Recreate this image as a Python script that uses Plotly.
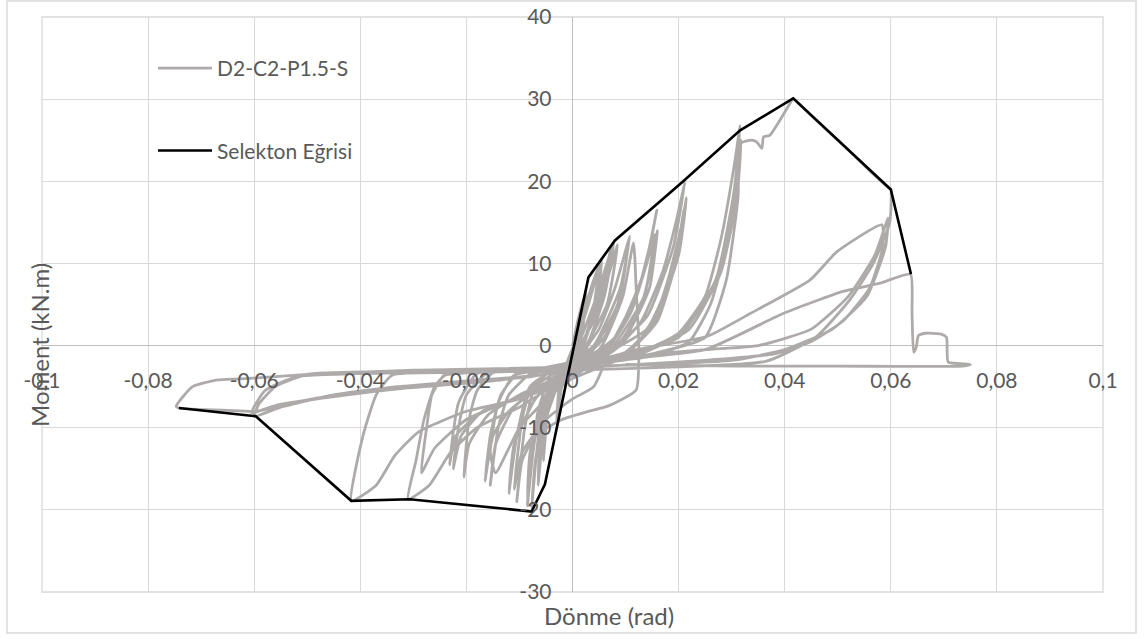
import plotly.graph_objects as go

# ---------------- data ----------------
series_names = ["D2-C2-P1.5-S", "Selekton Eğrisi"]

# skeleton (envelope) curve
skel_rot = [-0.0742, -0.0597, -0.0417, -0.0307, -0.0077, -0.0052, 0.0030, 0.0080, 0.0205, 0.0316, 0.0416, 0.0600, 0.0638]
skel_mom = [-7.6, -8.6, -18.9, -18.7, -20.2, -16.9, 8.3, 12.8, 19.8, 26.2, 30.1, 19.0, 8.7]

# hysteresis record, split by loading stage
h1_rot = [0.0, 0.001, 0.0025, 0.002, 0.0005, -0.0015, -0.003, -0.0025, -0.001, 0.0005,
          0.002, 0.0035, 0.005, 0.0038, 0.001, -0.003, -0.0045, -0.0055, -0.005, -0.002, 0.0,
          0.003, 0.0055, 0.0045, 0.0015, -0.002, -0.005, -0.0065, -0.006, -0.003, 0.0,
          0.004, 0.0065, 0.0078, 0.006, 0.002, -0.003, -0.006, -0.0077, -0.007, -0.004, 0.0,
          0.003, 0.006, 0.0072, 0.0055, 0.002, -0.002, -0.005, -0.007, -0.0085, -0.008, -0.005, -0.001,
          0.004, 0.007, 0.0085, 0.0065, 0.001, -0.004, -0.0065, -0.0085, -0.0075, -0.004, 0.001]
h1_mom = [0.0, 3.0, 6.5, 2.5, -0.5, -3.0, -9.5, -5.0, -2.0, 0.5,
          4.0, 7.0, 9.8, 4.0, -1.2, -3.5, -7.0, -14.0, -9.0, -3.5, -1.0,
          5.0, 10.5, 5.0, -0.8, -3.2, -8.0, -17.0, -11.0, -4.0, -1.5,
          5.0, 10.0, 12.6, 6.0, -1.0, -4.0, -9.0, -19.8, -14.0, -5.0, -2.0,
          2.0, 8.0, 11.8, 5.0, -1.2, -3.4, -6.0, -11.0, -18.5, -13.0, -6.0, -2.5,
          3.0, 9.0, 12.3, 5.0, -1.5, -3.5, -8.0, -19.5, -12.0, -4.5, -1.5]

h2_rot = [0.005, 0.008, 0.0108, 0.009, 0.004, -0.002, -0.007, -0.009, -0.0105, -0.0095, -0.007,
          -0.002, 0.003, 0.0065, 0.012, 0.0125, 0.012, 0.0115, 0.0095, 0.005, -0.003, -0.008,
          -0.0105, -0.012, -0.011, -0.007, -0.002, 0.003,
          0.006, 0.009, 0.0105, 0.0085, 0.003, -0.004, -0.008, -0.0095, -0.011, -0.0095, -0.005,
          0.0, 0.004]
h2_mom = [2.0, 7.0, 13.3, 7.0, 0.0, -2.8, -5.0, -10.0, -19.0, -14.0, -11.0,
          -9.0, -8.0, -7.4, -5.4, 0.0, 7.0, 12.5, 6.0, -0.5, -2.8, -5.0,
          -11.0, -18.0, -12.0, -6.5, -3.2, -1.0,
          1.0, 6.0, 12.0, 5.0, -1.2, -3.0, -5.5, -9.0, -17.5, -13.0, -9.0,
          -6.5, -5.0]

h3_rot = [0.008, 0.012, 0.0145, 0.0159, 0.0135, 0.008, 0.0, -0.008, -0.012, -0.014, -0.0155,
          -0.0145, -0.011, -0.005, 0.001, 0.009, 0.013, 0.015, 0.016, 0.0145, 0.009, 0.0,
          -0.01, -0.0135, -0.0155, -0.0165, -0.015, -0.012, -0.006, 0.0,
          0.007, 0.011, 0.014, 0.0155, 0.0135, 0.007, -0.002, -0.011, -0.014, -0.0155, -0.0145,
          -0.01, -0.004, 0.002]
h3_mom = [1.0, 6.0, 12.0, 16.5, 9.0, 1.0, -2.5, -3.5, -6.0, -10.0, -17.0,
          -12.0, -7.5, -4.5, -2.0, 0.5, 5.0, 10.0, 14.0, 7.0, 0.0, -2.8,
          -3.2, -6.0, -11.0, -16.5, -11.0, -8.0, -5.0, -2.5,
          0.0, 4.0, 10.0, 13.5, 6.0, -0.5, -2.8, -3.6, -7.0, -13.0, -15.5,
          -10.0, -6.0, -3.0]

h4_rot = [0.008, 0.013, 0.017, 0.0195, 0.0212, 0.019, 0.014, 0.007, -0.005, -0.015, -0.018,
          -0.0195, -0.0205, -0.0195, -0.016, -0.01, -0.003, 0.003, 0.01, 0.015, 0.018, 0.0205,
          0.0215, 0.02, 0.015, 0.006, -0.006, -0.016, -0.02, -0.0215, -0.0225, -0.021, -0.017,
          -0.01, -0.003, 0.004,
          0.011, 0.016, 0.019, 0.021, 0.0195, 0.014, 0.005, -0.008, -0.018, -0.0215, -0.0232,
          -0.022, -0.018, -0.011, -0.004, 0.003]
h4_mom = [-0.5, 3.0, 9.0, 15.0, 19.9, 12.0, 3.5, -0.5, -2.8, -3.3, -5.5,
          -9.0, -16.0, -12.0, -8.5, -6.0, -4.0, -2.0, -0.8, 2.5, 8.0, 14.5,
          18.0, 11.0, 2.5, -1.0, -3.0, -3.3, -6.0, -10.0, -15.0, -11.0, -8.0,
          -6.3, -4.5, -2.3,
          -0.5, 3.0, 9.0, 16.5, 10.0, 2.0, -1.2, -3.0, -3.4, -7.0, -14.5,
          -11.0, -8.5, -6.5, -4.3, -2.4]

h5_rot = [0.012, 0.02, 0.025, 0.028, 0.0305, 0.0316, 0.0305, 0.027, 0.02, 0.01, 0.0, -0.015,
          -0.024, -0.026, -0.028, -0.0295, -0.031, -0.027, -0.023, -0.018, -0.01, -0.004, 0.002,
          0.015, 0.022, 0.026, 0.029, 0.031, 0.0318, 0.031, 0.028, 0.022, 0.012, 0.0, -0.015,
          -0.024, -0.0265, -0.0275, -0.0285, -0.026, -0.02, -0.012, -0.004, 0.004]
h5_mom = [-1.0, 1.5, 6.0, 13.0, 22.0, 26.8, 19.0, 8.0, 1.0, -1.0, -2.5, -3.2,
          -3.6, -5.0, -9.0, -14.0, -18.7, -17.0, -13.0, -10.0, -7.5, -5.0, -2.5,
          -1.3, 0.5, 5.0, 12.0, 20.0, 25.0, 18.0, 9.0, 2.0, -1.2, -2.6, -3.1,
          -3.5, -6.0, -10.0, -15.5, -12.5, -9.0, -6.8, -4.2, -2.2]

h6_rot = [0.015, 0.025, 0.029, 0.0312, 0.0316, 0.0338, 0.0347, 0.0357, 0.036, 0.0372, 0.0413,
          0.0416, 0.0421, 0.046, 0.052, 0.056, 0.0596, 0.06, 0.0598, 0.0567, 0.0523, 0.046,
          0.0366, 0.02, 0.0, -0.02,
          -0.034, -0.037, -0.0395, -0.0417, -0.037, -0.0335, -0.029, -0.02, -0.01, 0.0, 0.01, 0.025]
h6_mom = [-1.0, 1.0, 8.0, 18.0, 24.6, 25.0, 24.8, 24.0, 25.4, 25.6, 29.8,
          30.1, 29.8, 27.4, 23.8, 21.3, 19.2, 19.0, 15.0, 10.0, 5.6, 1.1,
          -1.9, -2.6, -3.0, -3.3,
          -3.6, -6.0, -11.0, -18.9, -17.0, -13.4, -10.5, -8.0, -6.5, -4.0, -1.5, -0.5]

h7_rot = [0.035, 0.045, 0.052, 0.057, 0.0595, 0.059, 0.0555, 0.049, 0.04, 0.03, 0.0, -0.03,
          -0.05, -0.056, -0.059, -0.06, -0.055, -0.045, -0.033, -0.02, -0.008, 0.0, 0.012,
          0.0253, 0.0335, 0.0448, 0.0498, 0.0583, 0.0585, 0.056, 0.051, 0.045, 0.038, 0.025,
          0.0, -0.03, -0.052, -0.058, -0.0605, -0.056, -0.045, -0.032, -0.015, 0.0, 0.012]
h7_mom = [0.0, 2.0, 6.0, 11.0, 15.5, 12.0, 6.0, 2.0, -0.5, -1.8, -2.6, -3.1,
          -3.5, -5.0, -7.0, -8.6, -7.5, -6.0, -5.0, -4.4, -3.8, -2.8, -0.5,
          1.1, 3.9, 8.0, 11.4, 14.7, 12.0, 7.0, 3.0, 0.5, -1.0, -1.8,
          -2.7, -3.3, -3.8, -5.5, -8.2, -7.3, -6.2, -5.2, -4.3, -3.0, -1.0]

h8_rot = [0.0, -0.03, -0.05, -0.0609, -0.0672, -0.0716, -0.0734, -0.0747, -0.0742, -0.065,
          -0.0596, -0.05, -0.04, -0.0326, -0.02, -0.005, 0.005, 0.025, 0.0397, 0.051, 0.058,
          0.0637, 0.064, 0.0643, 0.0648, 0.0652, 0.0665, 0.0695, 0.0705, 0.0708, 0.073, 0.075,
          0.0735, 0.05, 0.03, 0.01]
h8_mom = [-2.5, -3.0, -3.5, -4.0, -4.2, -5.0, -6.2, -7.4, -7.6, -7.9,
          -8.0, -6.6, -5.6, -5.0, -4.3, -3.5, -2.0, -0.5, 3.9, 6.6, 7.6,
          8.7, 4.0, -0.8, -0.2, 1.2, 1.5, 1.4, 1.0, -2.0, -2.2, -2.3,
          -2.5, -2.5, -2.5, -2.3]

x_tickvals = [-0.1, -0.08, -0.06, -0.04, -0.02, 0.0, 0.02, 0.04, 0.06, 0.08, 0.1]
x_ticktext = ["-0,1", "-0,08", "-0,06", "-0,04", "-0,02", "0", "0,02", "0,04", "0,06", "0,08", "0,1"]
y_tickvals = [-30, -20, -10, 0, 10, 20, 30, 40]
y_ticktext = ["-30", "-20", "-10", "0", "10", "20", "30", "40"]

x_title = "Dönme (rad)"
y_title = "Moment (kN.m)"

# ---------------- figure ----------------
hyst_rot = h1_rot + h2_rot + h3_rot + h4_rot + h5_rot + h6_rot + h7_rot + h8_rot
hyst_mom = h1_mom + h2_mom + h3_mom + h4_mom + h5_mom + h6_mom + h7_mom + h8_mom

FONT = "Lato, 'Open Sans', sans-serif"
TXT = "#595959"
GRID = "#d9d9d9"

fig = go.Figure()
fig.add_trace(go.Scatter(x=hyst_rot, y=hyst_mom, mode="lines", name=series_names[0],
                         legendgroup="a",
                         line=dict(color="#aeaaaa", width=2.8, shape="spline", smoothing=0.5)))
fig.add_trace(go.Scatter(x=skel_rot, y=skel_mom, mode="lines", name=series_names[1],
                         legendgroup="b",
                         line=dict(color="#000000", width=2.6)))

W, H = 1145, 639
ml, mr, mt, mb = 42, 42, 17, 47
pw, ph = W - ml - mr, H - mt - mb

def px_x(p):
    return (p - ml) / pw

def px_y(p):
    return (H - mb - p) / ph

fig.update_layout(
    width=W, height=H,
    margin=dict(l=ml, r=mr, t=mt, b=mb, pad=0, autoexpand=False),
    paper_bgcolor="white", plot_bgcolor="white",
    font=dict(family=FONT, color=TXT, size=21),
    showlegend=True,
    legend=dict(x=px_x(153), y=px_y(48), xanchor="left", yanchor="top",
                bgcolor="rgba(0,0,0,0)", font=dict(size=21, color=TXT),
                traceorder="grouped", tracegroupgap=52, itemwidth=54),
    xaxis=dict(range=[-0.1, 0.1], tickvals=x_tickvals, ticktext=x_ticktext,
               showgrid=True, gridcolor=GRID, gridwidth=1.3,
               zeroline=True, zerolinecolor="#bfbfbf", zerolinewidth=1.3,
               showline=False, ticks="", anchor="free", position=30 / 70,
               automargin=False,
               ticklabelstandoff=20, tickfont=dict(size=21, color=TXT)),
    yaxis=dict(range=[-30, 40], tickvals=y_tickvals, ticktext=y_ticktext,
               showgrid=True, gridcolor=GRID, gridwidth=1.3,
               zeroline=True, zerolinecolor="#bfbfbf", zerolinewidth=1.3,
               showline=False, ticks="", anchor="free", position=0.5,
               automargin=False,
               ticklabelstandoff=21, tickfont=dict(size=21, color=TXT)),
    shapes=[
        dict(type="rect", xref="paper", yref="paper", x0=0, x1=1, y0=0, y1=1,
             line=dict(color=GRID, width=1.3), layer="below"),
        dict(type="rect", xref="paper", yref="paper",
             x0=px_x(7), x1=px_x(1136), y0=px_y(633), y1=px_y(1),
             line=dict(color=GRID, width=1.5), layer="below"),
    ],
    annotations=[
        dict(text=x_title, xref="paper", yref="paper", x=px_x(609), y=px_y(615),
             xanchor="center", yanchor="middle", showarrow=False,
             font=dict(size=24, color=TXT, family=FONT)),
        dict(text=y_title, xref="paper", yref="paper", x=px_x(39), y=px_y(345),
             xanchor="center", yanchor="middle", showarrow=False, textangle=-90,
             font=dict(size=24, color=TXT, family=FONT)),
    ],
)

fig.write_html("out.html",
               config={"displayModeBar": False},
               post_script="document.body.style.margin='0px';document.body.style.overflow='hidden';")
